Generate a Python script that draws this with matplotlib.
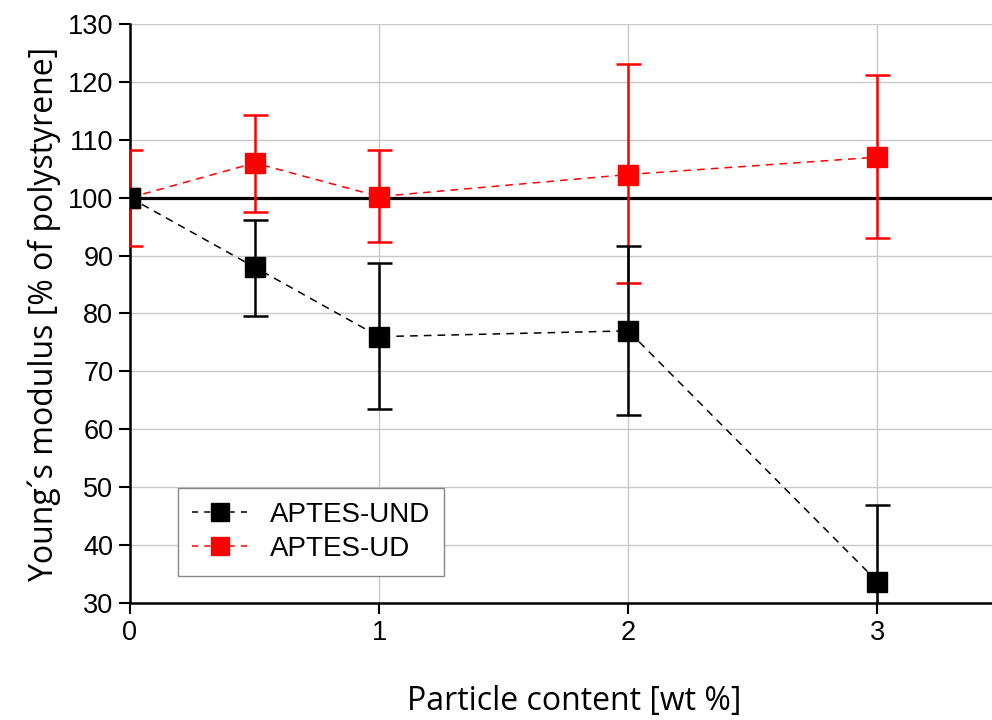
import matplotlib

matplotlib.use("Agg")
import matplotlib.pyplot as plt  # noqa: E402
from matplotlib.lines import Line2D  # noqa: E402

plt.rcParams["font.family"] = ["Liberation Sans", "DejaVu Sans"]

# data
content = [0, 0.5, 1, 2, 3]
und_mean = [100, 88, 76, 77, 33.7]
und_lo = [0, 8.5, 12.5, 14.5, 8.0]
und_hi = [0, 8.2, 12.7, 14.7, 13.3]
ud_mean = [100, 106, 100.2, 104, 107]
ud_lo = [8.3, 8.5, 7.9, 18.8, 14.0]
ud_hi = [8.3, 8.3, 8.0, 19.1, 14.2]

RED = "#ff0000"

fig = plt.figure(figsize=(9.92, 7.2), dpi=100)
ax = fig.add_axes([0.131, 0.1625, 0.869, 0.8042])

ax.axhline(100, color="black", lw=2.3, zorder=2)

style = dict(ls="--", lw=1.1, marker="s", ms=15, elinewidth=1.8, capsize=9,
             capthick=1.8, dashes=(5, 4))
ax.errorbar(content, ud_mean, yerr=[ud_lo, ud_hi], color=RED, zorder=3, **style)
ax.errorbar(content, und_mean, yerr=[und_lo, und_hi], color="black", zorder=4, **style)

ax.set_xlim(0, 3.46)
ax.set_ylim(30, 130)
ax.set_xticks([0, 1, 2, 3])
ax.set_yticks(range(30, 131, 10))
ax.grid(True, color="#c8c8c8", lw=1)
ax.set_axisbelow(True)
for side in ("top", "right"):
    ax.spines[side].set_visible(False)
for side in ("left", "bottom"):
    ax.spines[side].set_linewidth(1.8)
ax.tick_params(direction="out", length=8, width=1.5, labelsize=19.5, pad=4)

ax.set_xlabel("Particle content [wt %]", fontsize=23, family="Open Sans", labelpad=28)
ax.xaxis.label.set_x(0.515)
ax.set_ylabel("Young\u00b4s modulus [% of polystyrene]", fontsize=23, family="Open Sans",
              labelpad=5)

handles = [
    Line2D([], [], color="black", ls="--", lw=1.1, dashes=(4, 4), marker="s", ms=13),
    Line2D([], [], color=RED, ls="--", lw=1.1, dashes=(4, 4), marker="s", ms=13),
]
ax.legend(handles, ["APTES-UND", "APTES-UD"], loc="lower left",
          bbox_to_anchor=(0.04, 0.023), fontsize=20, fancybox=False, framealpha=1,
          edgecolor="#888888", handlelength=2.0, borderpad=0.5, labelspacing=0.3,
          handletextpad=0.8)

fig.savefig("out.png", dpi=100)
